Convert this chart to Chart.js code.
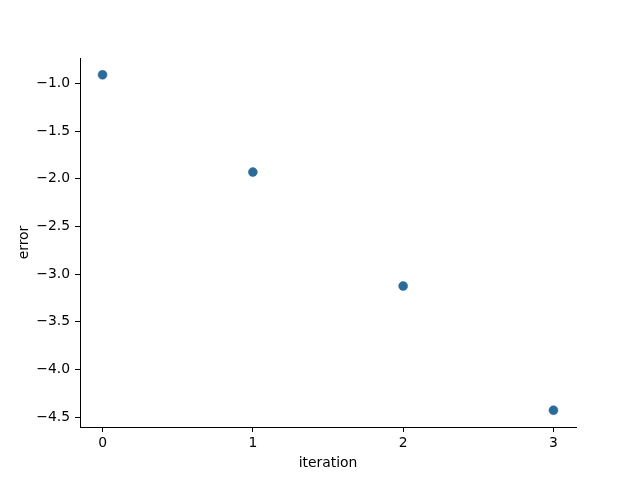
<!DOCTYPE html>
<html>
<head>
<meta charset="utf-8">
<script src="https://cdn.jsdelivr.net/npm/chart.js@4/dist/chart.umd.min.js"></script>
<style>
  html, body { margin: 0; padding: 0; background: #fff; }
  canvas { display: block; }
</style>
</head>
<body>
<canvas id="chart" width="640" height="480"></canvas>
<script>
// Data
const iterations = [0, 1, 2, 3];
const errors = [-0.909, -1.930, -3.125, -4.428];
const xTicks = [0, 1, 2, 3];
const yTicks = [-1.0, -1.5, -2.0, -2.5, -3.0, -3.5, -4.0, -4.5];

const font = { family: 'DejaVu Sans', size: 13.9 };
const minus = v => String(v).replace('-', '\u2212');

const points = iterations.map((x, i) => ({ x: x, y: errors[i] }));

new Chart(document.getElementById('chart'), {
    type: 'scatter',
    data: {
        datasets: [{
            data: points,
            backgroundColor: '#2a6b9a',
            borderColor: '#2a6b9a',
            borderWidth: 0.5,
            pointRadius: 4.5,
            pointHoverRadius: 4.5
        }]
    },
    options: {
        responsive: false,
        animation: false,
        events: [],
        layout: { padding: { left: 0, right: 64, top: 58, bottom: 0 } },
        plugins: { legend: { display: false }, tooltip: { enabled: false } },
        scales: {
            x: {
                type: 'linear',
                min: -0.15,
                max: 3.15,
                afterBuildTicks: s => { s.ticks = xTicks.map(v => ({ value: v })); },
                afterFit: s => { s.height = 53; },
                ticks: { color: '#000', font: font, padding: 3, maxRotation: 0,
                         callback: v => minus(v) },
                grid: { display: true, drawOnChartArea: false, drawTicks: true,
                        tickLength: 5, color: '#000', tickWidth: 1 },
                border: { display: true, color: '#000', width: 1 },
                title: { display: true, text: 'iteration', color: '#000', font: font,
                         padding: { top: 0, bottom: 8 } }
            },
            y: {
                type: 'linear',
                min: -4.604,
                max: -0.733,
                afterBuildTicks: s => { s.ticks = yTicks.map(v => ({ value: v })); },
                afterFit: s => { s.width = 80; },
                ticks: { color: '#000', font: font, padding: 5,
                         callback: v => minus(v.toFixed(1)) },
                grid: { display: true, drawOnChartArea: false, drawTicks: true,
                        tickLength: 5, color: '#000', tickWidth: 1 },
                border: { display: true, color: '#000', width: 1 },
                title: { display: true, text: 'error', color: '#000', font: font,
                         padding: { top: 16, bottom: 0 } }
            }
        }
    }
});
</script>
</body>
</html>
